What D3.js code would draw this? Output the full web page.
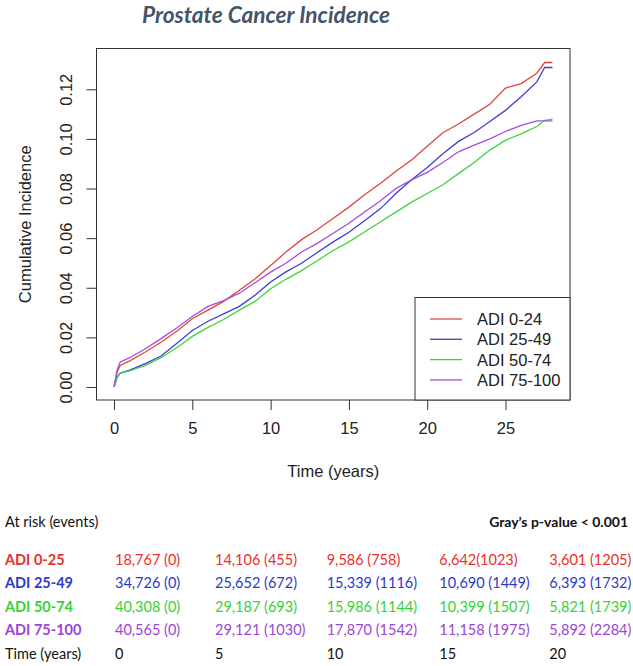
<!DOCTYPE html>
<html>
<head>
<meta charset="utf-8">
<script src="https://cdn.jsdelivr.net/npm/d3@7"></script>
<style>
  body { margin: 0; background: #fff; }
  svg { display: block; }
</style>
</head>
<body>
<svg id="chart" width="633" height="666"></svg>
<script>
// Cumulative incidence (time in years)
const times  = [0, 0.2, 0.4, 1, 2, 3, 4, 5, 6, 7, 8, 9, 10, 11, 12, 13, 14, 15, 16, 17, 18, 19, 20, 21, 22, 23, 24, 25, 26, 27, 27.5, 28];
const adi0   = [0, 0.006, 0.0087, 0.0105, 0.0141, 0.018, 0.0225, 0.0275, 0.031, 0.0345, 0.039, 0.0435, 0.049, 0.0545, 0.0595, 0.0635, 0.068, 0.0725, 0.0775, 0.082, 0.087, 0.0915, 0.097, 0.1025, 0.106, 0.110, 0.114, 0.1205, 0.1223, 0.1265, 0.1308, 0.1308];
const adi25  = [0, 0.004, 0.0056, 0.0068, 0.0094, 0.0125, 0.0175, 0.0228, 0.0265, 0.0295, 0.0325, 0.037, 0.0423, 0.0465, 0.050, 0.0543, 0.0585, 0.0624, 0.067, 0.0718, 0.078, 0.0835, 0.0885, 0.094, 0.099, 0.1026, 0.107, 0.1115, 0.117, 0.123, 0.1288, 0.1288];
const adi50  = [0, 0.004, 0.0056, 0.0065, 0.0087, 0.0118, 0.0158, 0.0204, 0.024, 0.0272, 0.031, 0.0345, 0.0396, 0.0435, 0.047, 0.051, 0.055, 0.0585, 0.0625, 0.0665, 0.0705, 0.0745, 0.078, 0.0815, 0.086, 0.0905, 0.0955, 0.0995, 0.102, 0.105, 0.1075, 0.108];
const adi75  = [0, 0.007, 0.0101, 0.0118, 0.0154, 0.0195, 0.0238, 0.0284, 0.0325, 0.0348, 0.0378, 0.042, 0.0463, 0.050, 0.0545, 0.058, 0.062, 0.066, 0.0705, 0.075, 0.080, 0.0835, 0.0865, 0.0905, 0.0948, 0.0975, 0.100, 0.103, 0.1055, 0.1073, 0.1073, 0.1073];

const legendLabels = ["ADI 0-24", "ADI 25-49", "ADI 50-74", "ADI 75-100"];
const lineColors   = ["#e0473c", "#3b3fd8", "#3fd43f", "#a24ee0"];

const xTicks = [0, 5, 10, 15, 20, 25];
const yTicks = [0, 0.02, 0.04, 0.06, 0.08, 0.10, 0.12];

// At-risk table
const tableLabels = ["ADI 0-25", "ADI 25-49", "ADI 50-74", "ADI 75-100"];
const tableColors = ["#e8302a", "#2b3acc", "#36d236", "#9b45d6"];
const riskTimes   = ["0", "5", "10", "15", "20"];
const riskAdi0    = ["18,767 (0)", "14,106 (455)", "9,586 (758)", "6,642(1023)", "3,601 (1205)"];
const riskAdi25   = ["34,726 (0)", "25,652 (672)", "15,339 (1116)", "10,690 (1449)", "6,393 (1732)"];
const riskAdi50   = ["40,308 (0)", "29,187 (693)", "15,986 (1144)", "10,399 (1507)", "5,821 (1739)"];
const riskAdi75   = ["40,565 (0)", "29,121 (1030)", "17,870 (1542)", "11,158 (1975)", "5,892 (2284)"];

const series = [adi0, adi25, adi50, adi75];
const riskRows = [riskAdi0, riskAdi25, riskAdi50, riskAdi75];

const svg = d3.select("#chart");
const plotFont = "'Liberation Sans', Arial, sans-serif";
const tableFont = "Lato, 'Open Sans', sans-serif";

// Plot region (R style: domains padded by 4%)
const box = { left: 96.5, right: 570, top: 48.5, bottom: 400 };
const x = d3.scaleLinear().domain([-1.12, 29.12]).range([box.left, box.right]);
const y = d3.scaleLinear().domain([-0.00525, 0.13645]).range([box.bottom, box.top]);

// Title
svg.append("text")
    .attr("x", 266)
    .attr("y", 23)
    .attr("text-anchor", "middle")
    .attr("textLength", 248)
    .attr("lengthAdjust", "spacingAndGlyphs")
    .style("font-family", tableFont)
    .style("font-weight", "bold")
    .style("font-style", "italic")
    .style("font-size", "23px")
    .style("fill", "#44546a")
    .text("Prostate Cancer Incidence");

// Curves
const line = d3.line()
    .x((d, i) => x(times[i]))
    .y(d => y(d));

svg.selectAll(".curve")
    .data(series)
    .enter().append("path")
    .attr("class", "curve")
    .attr("d", d => line(d))
    .style("fill", "none")
    .style("stroke", (d, i) => lineColors[i])
    .style("stroke-width", "1.3px");

// Axes
const xAxis = svg.append("g")
    .attr("transform", `translate(0,${box.bottom})`)
    .call(d3.axisBottom(x).tickValues(xTicks).tickSize(10).tickPadding(12).tickFormat(d3.format("d")));
xAxis.select(".domain").remove();

const yAxis = svg.append("g")
    .attr("transform", `translate(${box.left},0)`)
    .call(d3.axisLeft(y).tickValues(yTicks).tickSize(10).tickFormat(d3.format(".2f")));
yAxis.select(".domain").remove();
yAxis.selectAll("text")
    .attr("x", 0)
    .attr("y", -25)
    .attr("dy", 0)
    .attr("transform", "rotate(-90)")
    .attr("text-anchor", "middle");

svg.selectAll(".tick line").style("stroke", "#333");
svg.selectAll(".tick text")
    .style("font-family", plotFont)
    .style("font-size", "16.5px")
    .style("fill", "#222");

// Box round the plot
svg.append("rect")
    .attr("x", box.left)
    .attr("y", box.top)
    .attr("width", box.right - box.left)
    .attr("height", box.bottom - box.top)
    .style("fill", "none")
    .style("stroke", "#333")
    .style("stroke-width", "1px");

// Axis titles
svg.append("text")
    .attr("transform", `translate(31,${(box.top + box.bottom) / 2}) rotate(-90)`)
    .attr("text-anchor", "middle")
    .style("font-family", plotFont)
    .style("font-size", "16.5px")
    .style("fill", "#222")
    .text("Cumulative Incidence");

svg.append("text")
    .attr("x", (box.left + box.right) / 2)
    .attr("y", 477)
    .attr("text-anchor", "middle")
    .style("font-family", plotFont)
    .style("font-size", "16.5px")
    .style("fill", "#222")
    .text("Time (years)");

// Legend
const legend = svg.append("g");
legend.append("rect")
    .attr("x", 415)
    .attr("y", 297.5)
    .attr("width", box.right - 415)
    .attr("height", box.bottom - 297.5)
    .style("fill", "#fff")
    .style("stroke", "#333")
    .style("stroke-width", "1px");

legendLabels.forEach((label, i) => {
    const ly = 319 + i * 20.3;
    legend.append("line")
        .attr("x1", 430).attr("x2", 462)
        .attr("y1", ly).attr("y2", ly)
        .style("stroke", lineColors[i])
        .style("stroke-width", "1.3px");
    legend.append("text")
        .attr("x", 477)
        .attr("y", ly + 6)
        .style("font-family", plotFont)
        .style("font-size", "16.5px")
        .style("fill", "#222")
        .text(label);
});

// At-risk table below the plot
const colX = [115, 215, 326.7, 439.3, 549.3];
const rowY = [565, 588.3, 611.7, 635, 659];

svg.append("text")
    .attr("x", 5)
    .attr("y", 527)
    .style("font-family", tableFont)
    .style("font-size", "14.5px")
    .style("fill", "#111")
    .text("At risk (events)");

svg.append("text")
    .attr("x", 628)
    .attr("y", 527)
    .attr("text-anchor", "end")
    .style("font-family", tableFont)
    .style("font-size", "14px")
    .style("font-weight", "bold")
    .style("fill", "#111")
    .text("Gray\u2019s p-value < 0.001");

riskRows.forEach((row, i) => {
    svg.append("text")
        .attr("x", 5)
        .attr("y", rowY[i])
        .style("font-family", tableFont)
        .style("font-size", "14.5px")
        .style("font-weight", "bold")
        .style("fill", tableColors[i])
        .text(tableLabels[i]);
    row.forEach((cell, j) => {
        svg.append("text")
            .attr("x", colX[j])
            .attr("y", rowY[i])
            .style("font-family", tableFont)
            .style("font-size", "14.5px")
            .style("fill", tableColors[i])
            .text(cell);
    });
});

svg.append("text")
    .attr("x", 5)
    .attr("y", rowY[4])
    .style("font-family", tableFont)
    .style("font-size", "14.5px")
    .style("fill", "#111")
    .text("Time (years)");

riskTimes.forEach((t, j) => {
    svg.append("text")
        .attr("x", colX[j])
        .attr("y", rowY[4])
        .style("font-family", tableFont)
        .style("font-size", "14.5px")
        .style("fill", "#111")
        .text(t);
});
</script>
</body>
</html>
